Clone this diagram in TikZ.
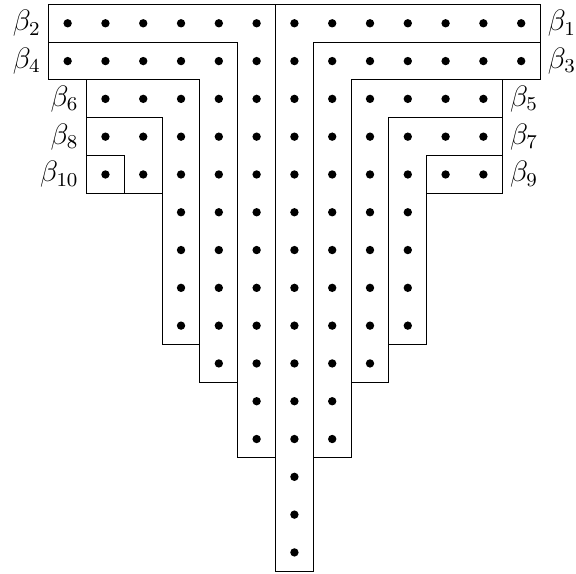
\documentclass[tikz,border=0pt]{standalone}
\begin{document}
\begin{tikzpicture}[x=0.54cm,y=0.54cm,
  region/.style={draw=black,line width=0.4pt},
  lab/.style={inner sep=3pt,font=\fontsize{11.5}{14}\selectfont}]
\useasboundingbox (-7.79,-14.57) rectangle (7.45,0.616);
% beta_1
\draw[region] (-0.5,0.5) -- (6.5,0.5) -- (6.5,-0.5) -- (0.5,-0.5) -- (0.5,-14.5) -- (-0.5,-14.5) -- cycle;
% beta_2
\draw[region] (-6.5,0.5) -- (-0.5,0.5) -- (-0.5,-11.5) -- (-1.5,-11.5) -- (-1.5,-0.5) -- (-6.5,-0.5) -- cycle;
% beta_3
\draw[region] (0.5,-0.5) -- (6.5,-0.5) -- (6.5,-1.5) -- (1.5,-1.5) -- (1.5,-11.5) -- (0.5,-11.5) -- cycle;
% beta_4
\draw[region] (-6.5,-0.5) -- (-1.5,-0.5) -- (-1.5,-9.5) -- (-2.5,-9.5) -- (-2.5,-1.5) -- (-6.5,-1.5) -- cycle;
% beta_5
\draw[region] (1.5,-1.5) -- (5.5,-1.5) -- (5.5,-2.5) -- (2.5,-2.5) -- (2.5,-9.5) -- (1.5,-9.5) -- cycle;
% beta_6
\draw[region] (-5.5,-1.5) -- (-2.5,-1.5) -- (-2.5,-8.5) -- (-3.5,-8.5) -- (-3.5,-2.5) -- (-5.5,-2.5) -- cycle;
% beta_7
\draw[region] (2.5,-2.5) -- (5.5,-2.5) -- (5.5,-3.5) -- (3.5,-3.5) -- (3.5,-8.5) -- (2.5,-8.5) -- cycle;
% beta_8
\draw[region] (-5.5,-2.5) -- (-3.5,-2.5) -- (-3.5,-4.5) -- (-4.5,-4.5) -- (-4.5,-3.5) -- (-5.5,-3.5) -- cycle;
% beta_9
\draw[region] (3.5,-3.5) -- (5.5,-3.5) -- (5.5,-4.5) -- (3.5,-4.5) -- cycle;
% beta_10
\draw[region] (-5.5,-3.5) -- (-4.5,-3.5) -- (-4.5,-4.5) -- (-5.5,-4.5) -- cycle;
% dots
\foreach \r/\a in {0/6,1/6,2/5,3/5,4/5,5/3,6/3,7/3,8/3,9/2,10/1,11/1,12/0,13/0,14/0}{
  \foreach \c in {-\a,...,\a}{
    \fill (\c,-\r) circle (1.7pt);
  }
}
% labels
\node[lab,anchor=west] (b1) at (6.5,0) {$\beta_1$};
\node[lab,anchor=east] (b2) at (-6.5,0) {$\beta_2$};
\node[lab,anchor=west] (b3) at (6.5,-1) {$\beta_3$};
\node[lab,anchor=east] (b4) at (-6.5,-1) {$\beta_4$};
\node[lab,anchor=west] (b5) at (5.5,-2) {$\beta_5$};
\node[lab,anchor=east] (b6) at (-5.5,-2) {$\beta_6$};
\node[lab,anchor=west] (b7) at (5.5,-3) {$\beta_7$};
\node[lab,anchor=east] (b8) at (-5.5,-3) {$\beta_8$};
\node[lab,anchor=west] (b9) at (5.5,-4) {$\beta_9$};
\node[lab,anchor=east] (b10) at (-5.5,-4) {$\beta_{10}$};
\end{tikzpicture}
\end{document}
